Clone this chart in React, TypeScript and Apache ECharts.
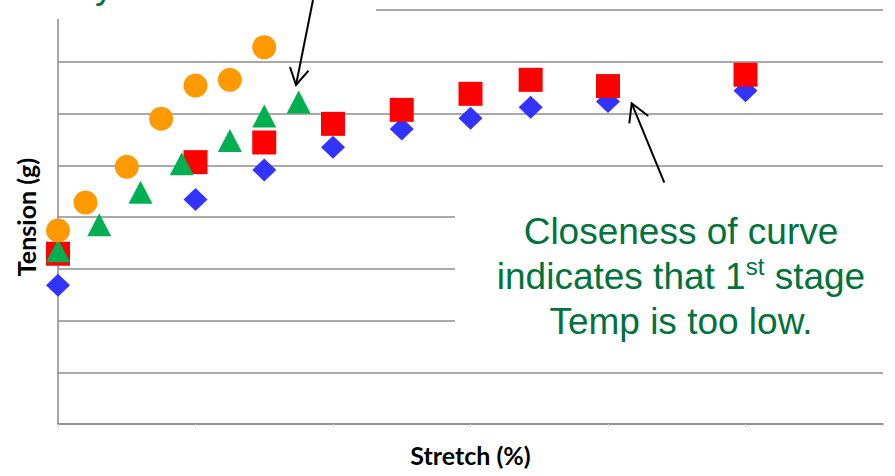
import React, { useEffect, useRef } from "react";
import * as echarts from "echarts";

// Stretch (%) values per series
const blueX = [0, 4, 6, 8, 10, 12, 13.75, 16, 20];
const blueY = [2.68, 4.34, 4.91, 5.35, 5.7, 5.91, 6.12, 6.23, 6.44];
const redX = [0, 4, 6, 8, 10, 12, 13.75, 16, 20];
const redY = [3.29, 5.06, 5.44, 5.8, 6.07, 6.38, 6.65, 6.53, 6.75];
const greenX = [0, 1.2, 2.4, 3.6, 5, 6, 7];
const greenY = [3.35, 3.85, 4.48, 5.03, 5.48, 5.95, 6.22];
const orangeX = [0, 0.8, 2, 3, 4, 5, 6];
const orangeY = [3.74, 4.28, 4.97, 5.9, 6.54, 6.65, 7.28];

const xMin = 0;
const xMax = 24;
const xStep = 4;
const yMin = 0;
const yMax = 8;
const yStep = 1;

const xTitle = "Stretch (%)";
const yTitle = "Tension (g)";
const noteText = "Closeness of curve\nindicates that 1{sup|st} stage\nTemp is too low.";
const cutText = "y";

const pairs = (xs: number[], ys: number[]) => xs.map((x, i) => [x, ys[i]]);

export default function App() {
  const ref = useRef<HTMLDivElement>(null);
  useEffect(() => {
    if (!ref.current) return;
    const chart = echarts.init(ref.current, null, { renderer: "svg" });
    const gray = "#8c8c8c";
    const green = "#00733C";
    chart.setOption({
      animation: false,
      backgroundColor: "#ffffff",
      grid: { left: 58, right: 12, top: 10, bottom: 52 },
      xAxis: {
        type: "value",
        min: xMin,
        max: xMax,
        interval: xStep,
        name: xTitle,
        nameLocation: "middle",
        nameGap: 18,
        nameTextStyle: { fontFamily: "Lato", fontWeight: "bold", fontSize: 25, color: "#000" },
        axisLine: { show: true, lineStyle: { color: gray, width: 1.5 } },
        axisTick: { show: true, length: 2, lineStyle: { color: "#d0d0d0" } },
        axisLabel: { show: false },
        splitLine: { show: false },
      },
      yAxis: {
        type: "value",
        min: yMin,
        max: yMax,
        interval: yStep,
        name: yTitle,
        nameLocation: "middle",
        nameGap: 20,
        nameTextStyle: { fontFamily: "Lato", fontWeight: "bold", fontSize: 25, color: "#000" },
        axisLine: { show: true, lineStyle: { color: gray, width: 1.5 } },
        axisTick: { show: false },
        axisLabel: { show: false },
        splitLine: { show: true, lineStyle: { color: gray, width: 1.5 } },
      },
      series: [
        {
          type: "scatter",
          data: pairs(blueX, blueY),
          symbol: "diamond",
          symbolSize: [24, 23],
          itemStyle: { color: "#3333FF", opacity: 1 },
        },
        {
          type: "scatter",
          data: pairs(redX, redY),
          symbol: "rect",
          symbolSize: 24,
          itemStyle: { color: "#FF0000", opacity: 1 },
        },
        {
          type: "scatter",
          data: pairs(greenX, greenY),
          symbol: "triangle",
          symbolSize: [24, 23],
          itemStyle: { color: "#00B050", opacity: 1 },
        },
        {
          type: "scatter",
          data: pairs(orangeX, orangeY),
          symbol: "circle",
          symbolSize: 24,
          itemStyle: { color: "#FF9900", opacity: 1 },
        },
      ],
      graphic: [
        { type: "rect", z: 100, shape: { x: 0, y: 0, width: 376, height: 19 }, style: { fill: "#fff" } },
        { type: "rect", z: 100, shape: { x: 455, y: 195, width: 440, height: 170 }, style: { fill: "#fff" } },
        {
          type: "text",
          z: 101,
          style: {
            text: cutText,
            x: 95,
            y: -14.6,
            verticalAlign: "middle",
            align: "left",
            fontSize: 37,
            fontFamily: "Liberation Sans",
            fill: green,
          },
        },
        {
          type: "text",
          z: 101,
          style: {
            text: noteText,
            x: 681,
            y: 209,
            align: "center",
            verticalAlign: "top",
            fontSize: 37,
            lineHeight: 45,
            fontFamily: "Liberation Sans",
            fill: green,
            rich: {
              sup: {
                fontSize: 24,
                lineHeight: 34,
                verticalAlign: "top",
                fontFamily: "Liberation Sans",
                fill: green,
              },
            },
          },
        },
        { type: "line", z: 102, shape: { x1: 313, y1: 0, x2: 296, y2: 85 }, style: { stroke: "#000", lineWidth: 2 } },
        {
          type: "polyline",
          z: 102,
          shape: { points: [[290, 67], [296, 85], [308.5, 70.7]] },
          style: { stroke: "#000", lineWidth: 2, fill: null },
        },
        { type: "line", z: 102, shape: { x1: 664.3, y1: 182.7, x2: 631.7, y2: 103.3 }, style: { stroke: "#000", lineWidth: 2 } },
        {
          type: "polyline",
          z: 102,
          shape: { points: [[629.3, 123.3], [631.7, 103.3], [648.3, 116]] },
          style: { stroke: "#000", lineWidth: 2, fill: null },
        },
      ],
    });
    return () => chart.dispose();
  }, []);
  return (
    <div
      ref={ref}
      style={{ position: "fixed", left: 0, top: 0, width: 895, height: 476, background: "#fff" }}
    />
  );
}
